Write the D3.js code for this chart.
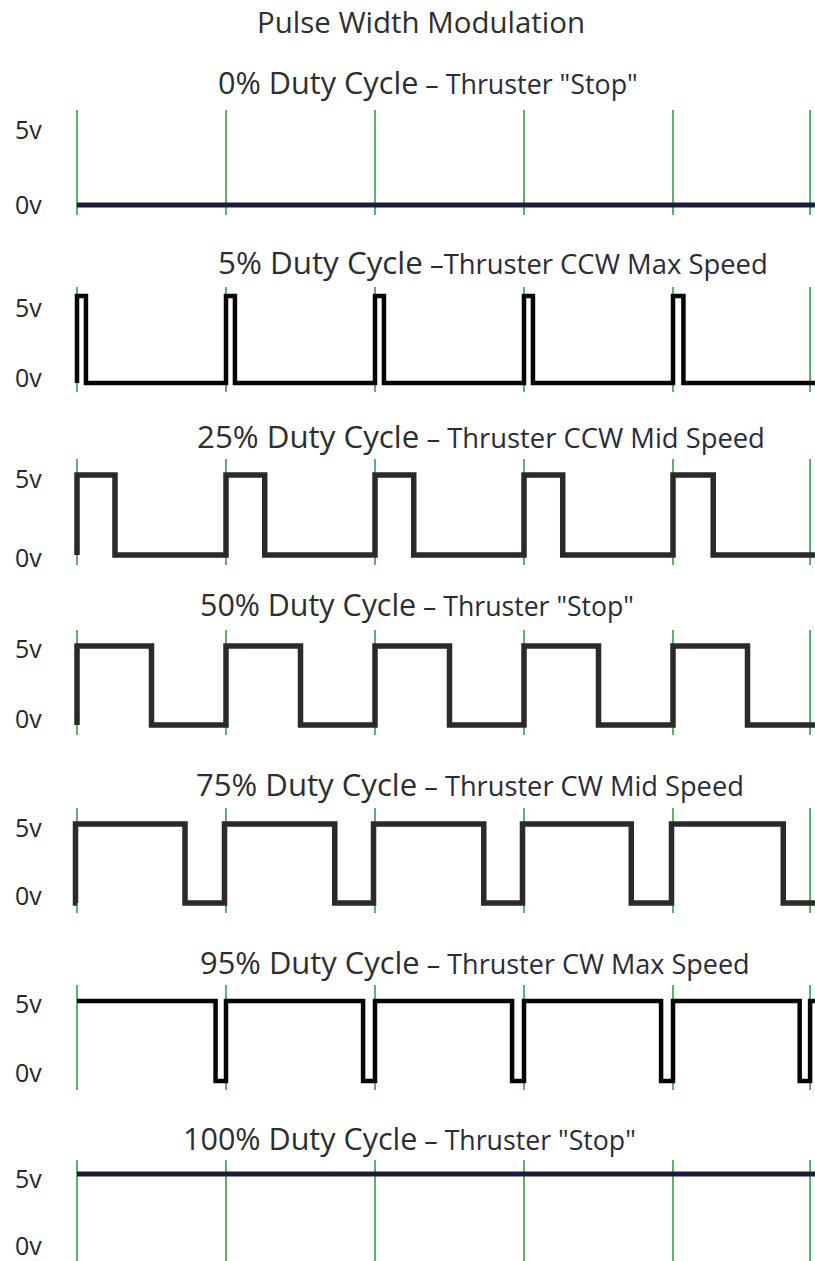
<!DOCTYPE html>
<html><head><meta charset="utf-8">
<script src="https://cdn.jsdelivr.net/npm/d3@7"></script>
<style>html,body{margin:0;padding:0;background:#fff;} svg{display:block;}</style>
</head><body><div id="chart"></div>
<script>
// ---------- data ----------
const chartTitle = "Pulse Width Modulation";
const dutyLabels = ["0% Duty Cycle", "5% Duty Cycle", "25% Duty Cycle", "50% Duty Cycle", "75% Duty Cycle", "95% Duty Cycle", "100% Duty Cycle"];
const modeLabels = [" \u2013 Thruster \"Stop\"", " \u2013Thruster CCW Max Speed", " \u2013 Thruster CCW Mid Speed", " \u2013 Thruster \"Stop\"", " \u2013 Thruster CW Mid Speed", " \u2013 Thruster CW Max Speed", " \u2013 Thruster \"Stop\""];
const levelTicks = ["5v", "0v"];
const levelValues = [5, 0];
const periodGrid = [0, 1, 2, 3, 4, 4.92];          // green period markers (in periods)
const startLevels = [0, 0, 0, 0, 0, 5, 5];          // level at t=0 for each panel (volts)
// times (in periods) at which the signal toggles
const edges00 = [];
const edges05 = [0, 0.06, 1, 1.06, 2, 2.06, 3, 3.06, 4, 4.07];
const edges25 = [0, 0.255, 1, 1.26, 2, 2.26, 3, 3.26, 4, 4.27];
const edges50 = [0, 0.5, 1, 1.5, 2, 2.5, 3, 3.5, 4, 4.5];
const edges75 = [-0.01, 0.725, 0.99, 1.73, 1.99, 2.73, 2.99, 3.72, 3.99, 4.74];
const edges95 = [0.93, 1.0, 1.92, 2.0, 2.92, 3.0, 3.92, 4.0, 4.85, 4.92];
const edges100 = [];
const edgeSets = [edges00, edges05, edges25, edges50, edges75, edges95, edges100];
const timeEnd = 5;

// ---------- layout ----------
const W = 815, H = 1261;
const panelHigh = [128, 296, 475, 646, 824, 1001, 1174];
const panelLow  = [205, 383, 555, 725, 903, 1081, 1253];
const titleBase = [94, 274, 448, 616, 796, 974, 1150];
const titleSpan = [[218,638],[218,768],[197,765],[200,634],[196,744],[200,750],[183,636]];
const tickBase5 = [139, 317, 488, 658, 837, 1013, 1188];
const tickBase0 = [214, 387, 567, 728, 905, 1082, 1255];
const gridSpan  = [[110,215],[287,392],[459,565],[630,735],[808,913],[985,1090],[1160,1265]];
const waveColor = ["#1c1c3a", "#050505", "#2a2a2a", "#2a2a2a", "#2a2a2a", "#050505", "#1c1c3a"];
const waveWidth = [5, 4.5, 5.5, 5.5, 5.5, 4.5, 5];
const FONT = "'Open Sans', 'Noto Sans', sans-serif";

const svg = d3.select("#chart").append("svg")
  .attr("width", W).attr("height", H)
  .attr("viewBox", `0 0 ${W} ${H}`);
svg.append("rect").attr("width", W).attr("height", H).attr("fill", "#fff");

const x = d3.scaleLinear().domain([0, 5]).range([77, 822]);

function fitText(sel, left, right, sizes) {
  const node = sel.node();
  const w = node.getComputedTextLength();
  const k = (right - left) / w;
  sel.selectAll("tspan").each(function(d, i) {
    d3.select(this).attr("font-size", sizes[i] * k);
  });
  sel.attr("x", left);
}

// main title
const t = svg.append("text")
  .attr("x", 257).attr("y", 33)
  .attr("font-family", FONT).attr("fill", "#2e2e2e");
t.append("tspan").attr("font-size", 24).text(chartTitle);
fitText(t, 257, 585, [24]);

dutyLabels.forEach((lab, i) => {
  const g = svg.append("g");
  const y = d3.scaleLinear().domain([0, 5]).range([panelLow[i], panelHigh[i]]);

  // green period markers
  g.selectAll("line.grid").data(periodGrid).join("line")
    .attr("class", "grid")
    .attr("x1", d => x(d)).attr("x2", d => x(d))
    .attr("y1", gridSpan[i][0]).attr("y2", gridSpan[i][1])
    .attr("stroke", "#3a9d44").attr("stroke-width", 1.6);

  // waveform
  let lvl = startLevels[i];
  const pts = [[0, lvl]];
  edgeSets[i].forEach(e => {
    pts.push([e, lvl]);
    lvl = lvl === 5 ? 0 : 5;
    pts.push([e, lvl]);
  });
  pts.push([timeEnd, lvl]);
  const line = d3.line().x(d => x(d[0])).y(d => y(d[1]));
  g.append("path").attr("d", line(pts))
    .attr("fill", "none").attr("stroke", waveColor[i])
    .attr("stroke-width", waveWidth[i])
    .attr("stroke-linejoin", "miter").attr("stroke-linecap", "butt");

  // level labels
  levelTicks.forEach((tk, j) => {
    g.append("text")
      .attr("x", 15).attr("y", j === 0 ? tickBase5[i] : tickBase0[i])
      .attr("font-family", FONT).attr("font-size", 25).attr("fill", "#262626")
      .text(tk);
  });

  // panel title
  const tt = g.append("text").attr("y", titleBase[i]).attr("font-family", FONT)
    .attr("xml:space", "preserve").style("white-space", "pre");
  tt.append("tspan").attr("font-size", 24).attr("fill", "#2e2e2e").text(lab);
  tt.append("tspan").attr("font-size", 21).attr("fill", "#2b2b38").text(modeLabels[i]);
  fitText(tt, titleSpan[i][0], titleSpan[i][1], [24, 21]);
});
</script>
</body></html>
